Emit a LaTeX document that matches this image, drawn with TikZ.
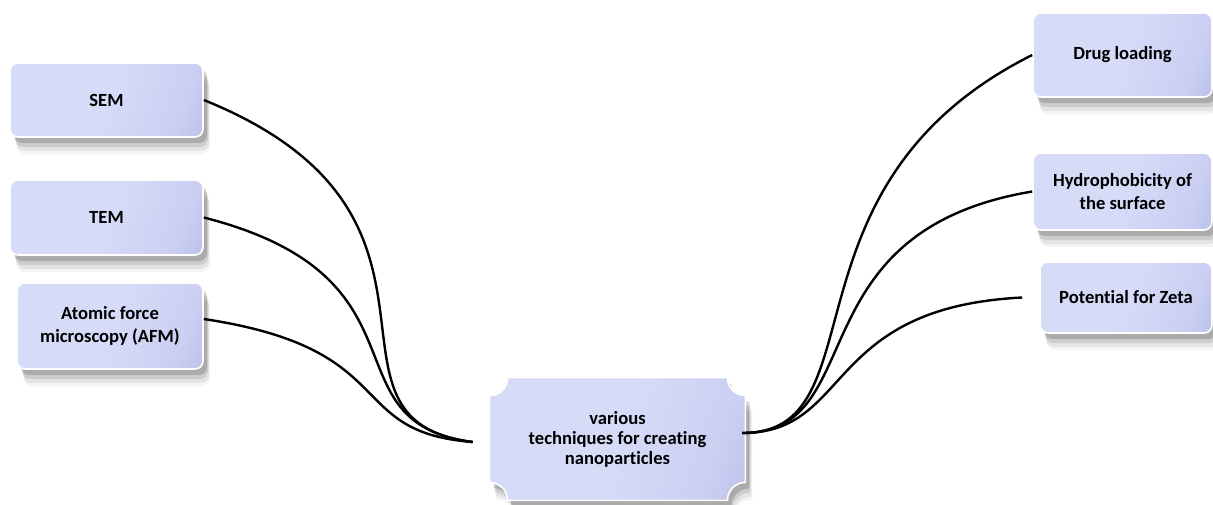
\documentclass[tikz,border=0pt]{standalone}
\usepackage{fontspec}
\setmainfont[Ligatures=NoCommon]{Carlito}
\usetikzlibrary{shadows,backgrounds,calc}
\definecolor{bxL}{HTML}{D6DBF8}
\definecolor{bxM}{HTML}{CBD0F3}
\definecolor{bxD}{HTML}{A3A9DE}
\pgfdeclarehorizontalshading{boxsh}{100bp}{color(0bp)=(bxL); color(50bp)=(bxL); color(72bp)=(bxM); color(100bp)=(bxD)}
\tikzset{
  softshadow/.style={
    drop shadow={shadow xshift=2pt, shadow yshift=-3pt, opacity=.16, fill=black},
    drop shadow={shadow xshift=2.5pt, shadow yshift=-5pt, opacity=.10, fill=black},
    drop shadow={shadow xshift=3pt, shadow yshift=-7pt, opacity=.07, fill=black},
    drop shadow={shadow xshift=3.5pt, shadow yshift=-8.5pt, opacity=.04, fill=black}},
  boxfill/.style={shading=boxsh, shading angle=-20, draw=white, line width=0.8pt},
  box/.style={rectangle, rounded corners=4pt, softshadow, boxfill, align=center,
    font=\bfseries\fontsize{9.3}{11.2}\selectfont, inner sep=2pt},
  link/.style={draw=black, line width=1.2pt},
}
\begin{document}
\begin{tikzpicture}[x=0.5pt, y=-0.5pt]
\useasboundingbox (0,0) rectangle (1213,504);

\node[box, minimum width=96.5pt, minimum height=37pt] (sem) at (106.5,100) {SEM};
\node[box, minimum width=96.5pt, minimum height=37.5pt] (tem) at (106.5,217.5) {TEM};
\node[box, minimum width=93pt, minimum height=43pt] (afm) at (110,326) {Atomic force\\microscopy (AFM)};
\node[box, minimum width=89.5pt, minimum height=42pt] (drug) at (1122.5,55) {Drug loading};
\node[box, minimum width=89.5pt, minimum height=38.5pt] (hydro) at (1122.5,191.5) {Hydrophobicity of\\the surface};
\node[box, minimum width=86pt, minimum height=35.5pt] (zeta) at (1126,297.5) {Potential for Zeta};

\node[inner sep=0, minimum width=127.5pt, minimum height=61pt, align=center,
  font=\bfseries\fontsize{9.3}{10}\selectfont] (c) at (617.5,439)
  {various\\techniques for creating\\nanoparticles};
\begin{scope}[on background layer]
\path[softshadow, boxfill]
  ($(c.north west)+(18,0)$) -- ($(c.north east)+(-18,0)$)
  arc[start angle=180, end angle=90, radius=18]
  -- ($(c.south east)+(0,-18)$)
  arc[start angle=270, end angle=180, radius=18]
  -- ($(c.south west)+(18,0)$)
  arc[start angle=0, end angle=-90, radius=18]
  -- ($(c.north west)+(0,18)$)
  arc[start angle=90, end angle=0, radius=18] -- cycle;
\end{scope}

\coordinate (cl) at ($(c.west)+(-17,3)$);
\coordinate (cr) at ($(c.east)+(-3,-6)$);
\coordinate (zl) at ($(zeta.west)+(-17,0)$);

\draw[link] (sem.east) .. controls +(285,115) and +(-175,-22) .. (cl);
\draw[link] (tem.east) .. controls +(235,60) and +(-150,-20) .. (cl);
\draw[link] ([yshift=3.5pt]afm.east) .. controls +(200,30) and +(-130,-10) .. (cl);

\draw[link] (cr) .. controls +(140,0) and +(-260,130) .. (drug.west);
\draw[link] (cr) .. controls +(130,0) and +(-240,40) .. (hydro.west);
\draw[link] (cr) .. controls +(110,0) and +(-200,10) .. (zl);
\end{tikzpicture}
\end{document}
